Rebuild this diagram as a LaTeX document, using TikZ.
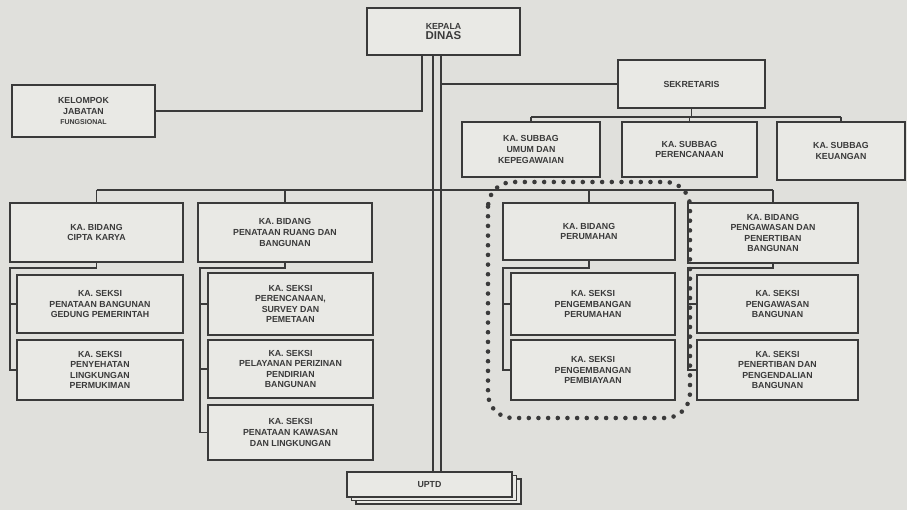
\documentclass[tikz,border=0pt]{standalone}
\usepackage{fontspec}
\setmainfont{Liberation Sans}
\usetikzlibrary{positioning,shadows}
\definecolor{paper}{RGB}{224,224,220}
\definecolor{boxfill}{RGB}{233,233,229}
\definecolor{ink}{RGB}{58,58,58}
\begin{document}
\begin{tikzpicture}[
  x=0.02cm, y=-0.02cm,
  box/.style={draw=ink, line width=1pt, fill=boxfill, align=center, inner sep=1pt,
    text=ink, font=\fontsize{5}{6}\selectfont\bfseries},
  link/.style={draw=ink, line width=0.9pt}
]
  \fill[paper] (0,0) rectangle (907,510);
  \useasboundingbox (0,0) rectangle (907,510);

  % Pimpinan dan sekretariat
  \node[box, minimum width=3.06cm, minimum height=0.94cm] (dinas) at (443.5,31.5) {KEPALA\\{\fontsize{6.5}{7}\selectfont DINAS}};
  \node[box, minimum width=2.86cm, minimum height=1.04cm] (kjf) at (83.5,111) {KELOMPOK\\JABATAN\\{\fontsize{4}{5}\selectfont FUNGSIONAL}};
  \node[box, minimum width=2.94cm, minimum height=0.96cm] (sekr) at (691.5,84) {SEKRETARIS};
  \node[box, minimum width=2.76cm, minimum height=1.10cm] (umum) at (531,149.5) {KA. SUBBAG\\UMUM DAN\\KEPEGAWAIAN};
  \node[box, minimum width=2.70cm, minimum height=1.10cm] (renc) at (689.5,149.5) {KA. SUBBAG\\PERENCANAAN};
  \node[box, minimum width=2.56cm, minimum height=1.16cm] (keu) at (841,151) {KA. SUBBAG\\KEUANGAN};

  % Bidang
  \node[box, minimum width=3.46cm, minimum height=1.18cm] (bcipta) at (96.5,232.5) {KA. BIDANG\\CIPTA KARYA};
  \node[box, minimum width=3.48cm, minimum height=1.18cm] (bruang) at (285,232.5) {KA. BIDANG\\PENATAAN RUANG DAN\\BANGUNAN};
  \node[box, minimum width=3.44cm, minimum height=1.14cm] (bperum) at (589,231.5) {KA. BIDANG\\PERUMAHAN};
  \node[box, minimum width=3.40cm, minimum height=1.20cm] (bawas) at (773,233) {KA. BIDANG\\PENGAWASAN DAN\\PENERTIBAN\\BANGUNAN};

  % Seksi
  \node[box, minimum width=3.32cm, minimum height=1.16cm] (s11) at (100,304) {KA. SEKSI\\PENATAAN BANGUNAN\\GEDUNG PEMERINTAH};
  \node[box, minimum width=3.32cm, minimum height=1.20cm] (s12) at (100,370) {KA. SEKSI\\PENYEHATAN\\LINGKUNGAN\\PERMUKIMAN};
  \node[box, minimum width=3.30cm, minimum height=1.24cm] (s21) at (290.5,304) {KA. SEKSI\\PERENCANAAN,\\SURVEY DAN\\PEMETAAN};
  \node[box, minimum width=3.30cm, minimum height=1.16cm] (s22) at (290.5,369) {KA. SEKSI\\PELAYANAN PERIZINAN\\PENDIRIAN\\BANGUNAN};
  \node[box, minimum width=3.30cm, minimum height=1.10cm] (s23) at (290.5,432.5) {KA. SEKSI\\PENATAAN KAWASAN\\DAN LINGKUNGAN};
  \node[box, minimum width=3.28cm, minimum height=1.24cm] (s31) at (593,304) {KA. SEKSI\\PENGEMBANGAN\\PERUMAHAN};
  \node[box, minimum width=3.28cm, minimum height=1.20cm] (s32) at (593,370) {KA. SEKSI\\PENGEMBANGAN\\PEMBIAYAAN};
  \node[box, minimum width=3.22cm, minimum height=1.16cm] (s41) at (777.5,304) {KA. SEKSI\\PENGAWASAN\\BANGUNAN};
  \node[box, minimum width=3.22cm, minimum height=1.20cm] (s42) at (777.5,370) {KA. SEKSI\\PENERTIBAN DAN\\PENGENDALIAN\\BANGUNAN};

  % UPTD
  \node[box, minimum width=3.30cm, minimum height=0.50cm,
    double copy shadow={shadow xshift=2.5pt, shadow yshift=-2pt, draw=ink, fill=boxfill}] (uptd) at (429.5,484.5) {UPTD};

  % Garis komando utama
  \coordinate (t1) at (433,55);
  \coordinate (t2) at (441,55);
  \coordinate (k1) at (422,55);
  \draw[link] (t1) -- (uptd.north -| t1);
  \draw[link] (t2) -- (uptd.north -| t2);
  \draw[link] (k1) |- (kjf.east);
  \draw[link] (sekr.west -| t2) -- (sekr.west);

  % Sekretariat ke subbag
  \coordinate (sb) at (691.5,117);
  \draw[link] (sekr.south) -- (sb);
  \draw[link] (umum.north |- sb) -- (keu.north |- sb);
  \draw[link] (umum.north |- sb) -- (umum.north);
  \draw[link] (renc.north |- sb) -- (renc.north);
  \draw[link] (keu.north |- sb) -- (keu.north);

  % Garis bidang
  \coordinate (bb) at (441,190);
  \draw[link] (bcipta.north |- bb) -- (bawas.north |- bb);
  \draw[link] (bcipta.north |- bb) -- (bcipta.north);
  \draw[link] (bruang.north |- bb) -- (bruang.north);
  \draw[link] (bperum.north |- bb) -- (bperum.north);
  \draw[link] (bawas.north |- bb) -- (bawas.north);

  % Garis seksi
  \coordinate (v1) at (10,268);
  \coordinate (v2) at (200,268);
  \coordinate (v3) at (503,268);
  \coordinate (v4) at (688,268);
  \draw[link] (bcipta.south) |- (v1) |- (s12.west);
  \draw[link] (v1 |- s11.west) -- (s11.west);
  \draw[link] (bruang.south) |- (v2) |- (s23.west);
  \draw[link] (v2 |- s21.west) -- (s21.west);
  \draw[link] (v2 |- s22.west) -- (s22.west);
  \draw[link] (bperum.south) |- (v3) |- (s32.west);
  \draw[link] (v3 |- s31.west) -- (s31.west);
  \draw[link] (bawas.south) |- (v4) |- (s42.west);
  \draw[link] (v4 |- s41.west) -- (s41.west);

  % Bingkai titik bidang perumahan
  \draw[ink, line width=2.6pt, line cap=round, dash pattern=on 0pt off 5.5pt, rounded corners=14pt]
    (488,182) rectangle (690,418);
\end{tikzpicture}
\end{document}
